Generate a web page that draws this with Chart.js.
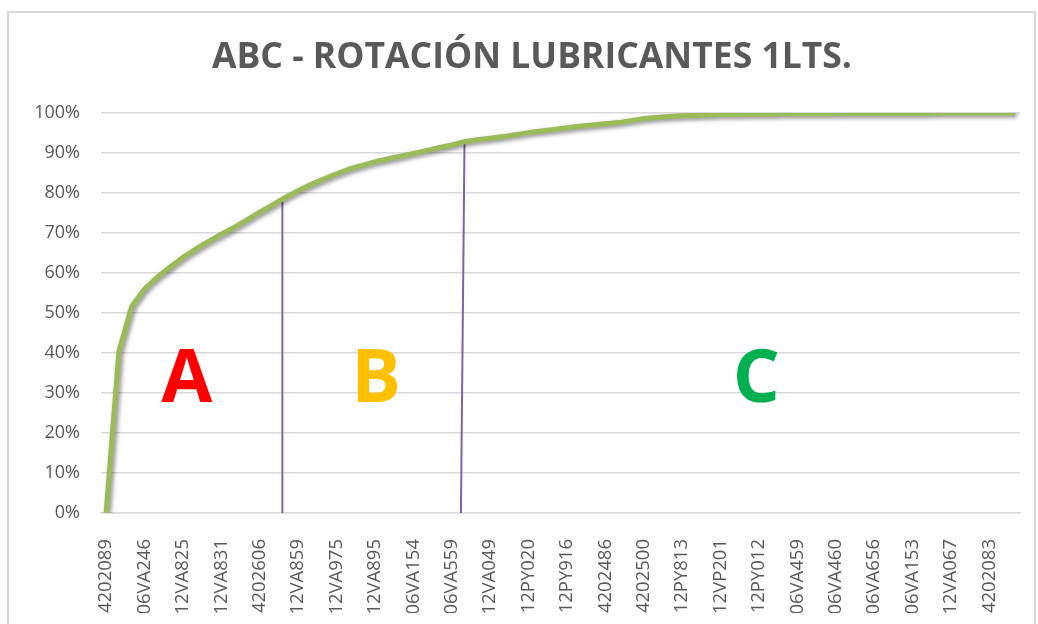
<!DOCTYPE html>
<html>
<head>
<meta charset="utf-8">
<title>ABC - Rotación lubricantes 1LTS.</title>
<script src="https://cdn.jsdelivr.net/npm/chart.js"></script>
<style>
  html, body {
    margin: 0;
    padding: 0;
    background: #fff;
    overflow: hidden;
  }
  .frame {
    position: absolute;
    left: 7px;
    top: 11px;
    width: 1025px;
    height: 620px;
    border: 2px solid #d9d9d9;
  }
  .wrap {
    position: absolute;
    left: 0;
    top: 0;
    width: 1038px;
    height: 624px;
  }
</style>
</head>
<body>
<div class="frame"></div>
<div class="wrap"><canvas id="abcChart"></canvas></div>
<script>
// tick labels shown on the x axis (one every 3 products)
const tickLabels = [
  "4202089", "06VA246", "12VA825", "12VA831", "4202606", "12VA859",
  "12VA975", "12VA895", "06VA154", "06VA559", "12VA049", "12PY020",
  "12PY916", "4202486", "4202500", "12PY813", "12VP201", "12PY012",
  "06VA459", "06VA460", "06VA656", "06VA153", "12VA067", "4202083"
];
const labelStep = 3;

// cumulative % per product (72 products)
const cumulative = [
  0, 40.4, 51.7, 56.0, 59.0, 61.5, 63.9, 66.0, 67.9, 69.7,
  71.4, 73.3, 75.2, 77.0, 78.9, 80.6, 82.1, 83.5, 84.8, 86.0,
  86.9, 87.8, 88.5, 89.2, 89.9, 90.6, 91.3, 92.0, 92.8, 93.3,
  93.7, 94.1, 94.6, 95.1, 95.5, 95.9, 96.3, 96.7, 97.0, 97.3,
  97.6, 98.1, 98.6, 98.9, 99.1, 99.3, 99.4, 99.5, 99.6, 99.6,
  99.7, 99.7, 99.7, 99.8, 99.8, 99.8, 99.8, 99.8, 99.9, 99.9,
  99.9, 99.9, 99.9, 99.9, 99.9, 100, 100, 100, 100, 100,
  100, 100
];

// A/B and B/C class limits (product index, cumulative %)
const limitXTop = [13.77, 28.0];
const limitXBottom = [13.77, 27.72];
const limitTop = [77.9, 92.9];

// zone letters
const zoneNames = ["A", "B", "C"];
const zoneColors = ["#ff0000", "#ffc000", "#00b050"];
const zoneAt = [6.3, 21.1, 50.8];

const yTicks = [0, 10, 20, 30, 40, 50, 60, 70, 80, 90, 100];

const limitSets = limitTop.map((top, k) => ({
  data: [{ x: limitXBottom[k], y: 0 }, { x: limitXTop[k], y: top }],
  borderColor: "#7f62a8",
  borderWidth: 2,
  pointRadius: 0,
  fill: false,
}));

const lineShadow = {
  id: "lineShadow",
  beforeDatasetDraw(chart, args) {
    if (args.index !== 0) return;
    const ctx = chart.ctx;
    ctx.save();
    ctx.shadowColor = "rgba(0,0,0,0.45)";
    ctx.shadowBlur = 4;
    ctx.shadowOffsetX = 2;
    ctx.shadowOffsetY = 2;
  },
  afterDatasetDraw(chart, args) {
    if (args.index !== 0) return;
    chart.ctx.restore();
  },
};

// the title sits centred on the frame, not on the canvas
const titleShift = {
  id: "titleShift",
  afterLayout(chart) {
    const t = chart.titleBlock;
    if (!t) return;
    t.left += 41;
    t.width -= 41;
  },
};

const zoneLetters = {
  id: "zoneLetters",
  afterDatasetsDraw(chart) {
    const ctx = chart.ctx;
    const xs = chart.scales.x;
    const ys = chart.scales.y;
    ctx.save();
    ctx.font = "bold 74px 'Open Sans'";
    ctx.textAlign = "center";
    ctx.textBaseline = "middle";
    zoneNames.forEach((name, k) => {
      ctx.fillStyle = zoneColors[k];
      ctx.fillText(name, xs.getPixelForValue(zoneAt[k]), ys.getPixelForValue(33.0));
    });
    ctx.restore();
  },
};

new Chart(document.getElementById("abcChart"), {
  type: "line",
  data: {
    datasets: [
      {
        data: cumulative.map((v, i) => ({ x: i, y: v })),
        borderColor: "#9bbb59",
        borderWidth: 5,
        borderJoinStyle: "round",
        pointRadius: 0,
        tension: 0,
        fill: false,
      },
      ...limitSets,
    ],
  },
  options: {
    responsive: true,
    maintainAspectRatio: false,
    animation: false,
    layout: { padding: { left: 0, right: 15, top: 0, bottom: 11 } },
    plugins: {
      legend: { display: false },
      tooltip: { enabled: false },
      title: {
        display: true,
        text: "ABC - ROTACIÓN LUBRICANTES 1LTS.",
        color: "#595959",
        font: { family: "'Open Sans'", size: 35.5, weight: "bold" },
        padding: { top: 37, bottom: 33.4 },
      },
    },
    scales: {
      x: {
        type: "linear",
        min: -0.4,
        max: 71.4,
        afterFit(scale) { scale.height = 100; },
        afterBuildTicks(scale) {
          scale.ticks = tickLabels.map((_, k) => ({ value: k * labelStep }));
        },
        grid: { display: false, drawTicks: false },
        border: { display: true, color: "#d9d9d9", width: 1.5 },
        ticks: {
          autoSkip: false,
          minRotation: 90,
          maxRotation: 90,
          padding: 26,
          color: "#595959",
          font: { family: "'Open Sans'", size: 18.5 },
          callback: (v) => tickLabels[Math.round(v / labelStep)],
        },
      },
      y: {
        min: 0,
        max: 100,
        afterFit(scale) { scale.width = 101; },
        afterBuildTicks(scale) {
          scale.ticks = yTicks.map((v) => ({ value: v }));
        },
        grid: { color: "#d9d9d9", lineWidth: 1.5, drawTicks: false },
        border: { display: false },
        ticks: {
          padding: 21,
          color: "#595959",
          font: { family: "'Open Sans'", size: 18 },
          callback: (v) => v + "%",
        },
      },
    },
  },
  plugins: [lineShadow, titleShift, zoneLetters],
});
</script>
</body>
</html>
